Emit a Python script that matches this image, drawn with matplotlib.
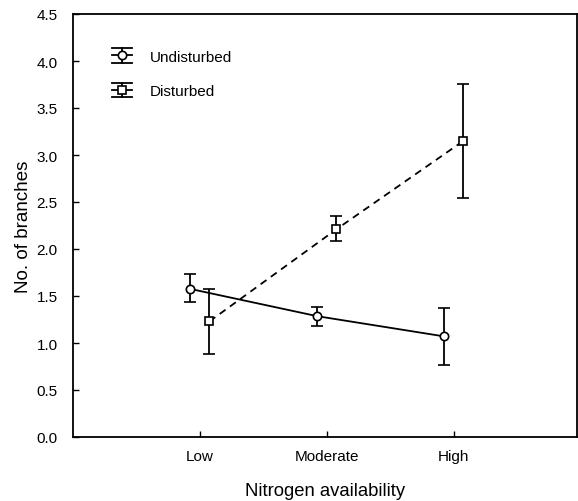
import matplotlib
matplotlib.use("Agg")
import matplotlib.pyplot as plt
import numpy as np
from matplotlib.legend_handler import HandlerBase
from matplotlib.lines import Line2D

plt.rcParams['font.family'] = ['Liberation Sans', 'DejaVu Sans']

categories = ["Low", "Moderate", "High"]
undisturbed = [1.575, 1.285, 1.07]
undisturbed_lo = [1.435, 1.18, 0.765]
undisturbed_hi = [1.73, 1.385, 1.37]
disturbed = [1.23, 2.21, 3.15]
disturbed_lo = [0.88, 2.08, 2.54]
disturbed_hi = [1.57, 2.35, 3.76]
yticks = [0.0, 0.5, 1.0, 1.5, 2.0, 2.5, 3.0, 3.5, 4.0, 4.5]

fig = plt.figure(figsize=(5.78, 5.02), dpi=100)
ax = fig.add_axes([73/578, 64/502, 504/578, 423/502])

x = np.arange(len(categories))
off = 0.075
u = np.array(undisturbed); d = np.array(disturbed)
uerr = [u - np.array(undisturbed_lo), np.array(undisturbed_hi) - u]
derr = [d - np.array(disturbed_lo), np.array(disturbed_hi) - d]

ax.errorbar(x - off, u, yerr=uerr, fmt='-o', color='black', lw=1.3,
            elinewidth=1.3, capsize=4.5, capthick=1.3, ms=6,
            mfc='white', mec='black', mew=1.2, zorder=3)
ax.errorbar(x + off, d, yerr=derr, fmt='--s', color='black', lw=1.3,
            elinewidth=1.3, capsize=4.5, capthick=1.3, ms=5.5,
            mfc='white', mec='black', mew=1.2, zorder=3, dashes=(4, 3))

ax.set_xlim(-1.0, 2.97)
ax.set_ylim(0, 4.5)
ax.set_xticks(x)
ax.set_xticklabels(categories)
ax.set_yticks(yticks)
ax.set_yticklabels([f"{t:.1f}" for t in yticks])
ax.tick_params(direction='in', length=4, width=1, labelsize=11, colors='black')
ax.tick_params(axis='x', pad=9)
ax.tick_params(axis='y', pad=11)
for s in ax.spines.values():
    s.set_linewidth(1.3)

ax.set_ylabel("No. of branches", fontsize=13.5, labelpad=3)
ax.set_xlabel("Nitrogen availability", fontsize=13.3, labelpad=13.5)


class ErrHandler(HandlerBase):
    def __init__(self, marker, dashed):
        super().__init__()
        self.marker = marker
        self.dashed = dashed

    def create_artists(self, legend, orig_handle, xdescent, ydescent,
                       width, height, fontsize, trans):
        cy = height / 2 - ydescent
        h = 5.2
        arts = []
        arts.append(Line2D([0, width], [cy + h, cy + h], color='black', lw=1.3, transform=trans))
        arts.append(Line2D([0, width], [cy - h, cy - h], color='black', lw=1.3, transform=trans))
        arts.append(Line2D([width / 2, width / 2], [cy - h, cy + h], color='black', lw=1.3, transform=trans))
        if self.dashed:
            arts.append(Line2D([0, width * 0.25], [cy, cy], color='black', lw=1.3, transform=trans))
            arts.append(Line2D([width * 0.75, width], [cy, cy], color='black', lw=1.3, transform=trans))
        else:
            arts.append(Line2D([0, width], [cy, cy], color='black', lw=1.3, transform=trans))
        arts.append(Line2D([width / 2], [cy], marker=self.marker, ms=5.5 if self.marker == 's' else 6,
                           mfc='white', mec='black', mew=1.2, ls='none', transform=trans))
        return arts


h1 = Line2D([], [])
h2 = Line2D([], [])
ax.legend([h1, h2], ["Undisturbed", "Disturbed"],
          handler_map={h1: ErrHandler('o', False), h2: ErrHandler('s', True)},
          loc='upper left', bbox_to_anchor=(0.065, 0.93), frameon=False,
          fontsize=11, handlelength=1.3, handletextpad=1.2, labelspacing=1.35,
          borderaxespad=0)

fig.savefig("out.png", dpi=100)
